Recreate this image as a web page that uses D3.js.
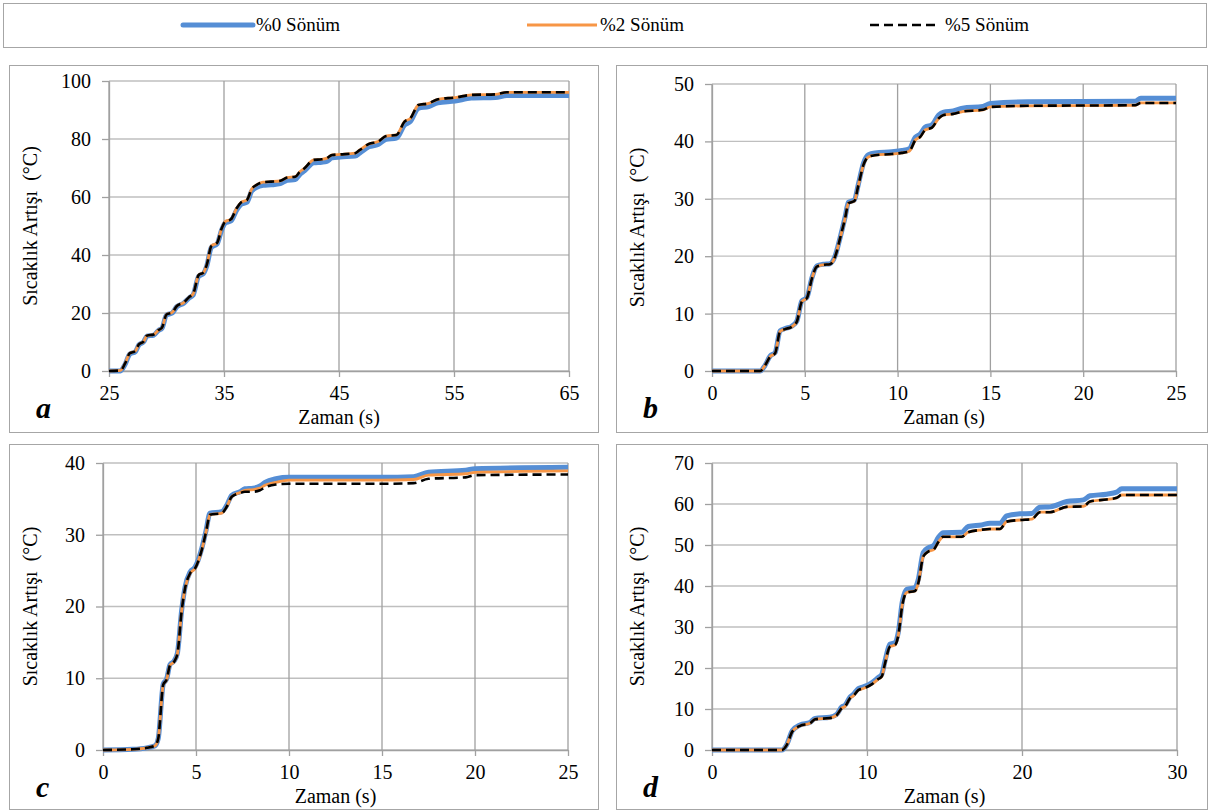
<!DOCTYPE html>
<html>
<head>
<meta charset="utf-8">
<script src="https://cdn.jsdelivr.net/npm/d3@7"></script>
<style>
  body { margin: 0; background: #fff; }
  svg { display: block; }
  svg text { fill: #000; white-space: pre; }
</style>
</head>
<body>
<div id="chart"></div>
<script>
const WIDTH = 1208;
const HEIGHT = 812;
const BLUE = "#558ed5";
const ORANGE = "#f79646";
const BLACK = "#000";
const BORDER = "#a6a6a6";
const FONT = "'Liberation Serif', 'Times New Roman', serif";

const seriesNames = ["%0 Sönüm", "%2 Sönüm", "%5 Sönüm"];
const yTitle = "Sıcaklık Artışı  (°C)";
const xTitle = "Zaman (s)";

// a
const aTime = [25, 26, 26.4, 26.8, 27.3, 27.6, 28, 28.3, 28.9, 29.3, 29.6, 30, 30.5, 30.9, 31.5, 32, 32.3, 32.8, 33.2, 33.5, 33.9, 34.4, 34.8, 35.1, 35.6, 36.1, 36.5, 37, 37.4, 37.8, 38.4, 39.1, 39.9, 40.5, 41.2, 41.6, 42, 42.8, 43.5, 43.9, 44.4, 45.1, 46.4, 46.8, 47.6, 48.4, 49.1, 50, 50.7, 51.2, 51.9, 52.8, 53.6, 55.1, 56.5, 58.6, 59.6, 65];
const aS0 = [0, 0, 2.3, 5.8, 6.7, 9.0, 10.0, 12.0, 12.4, 14.0, 14.7, 19.3, 20.0, 22.2, 23.4, 25.3, 26.1, 32.7, 33.5, 36.2, 42.6, 43.8, 48.7, 51.0, 51.7, 55.5, 57.5, 58.2, 62.0, 63.2, 64.0, 64.2, 64.6, 65.8, 66.0, 67.8, 69.0, 71.8, 72.0, 72.2, 73.5, 73.8, 74.1, 75.1, 77.3, 78.1, 79.9, 80.3, 84.8, 86.0, 90.6, 91.2, 92.5, 93.1, 94.1, 94.3, 95.0, 95.0];
const aS2 = [0, 0.2, 2.6, 6.1, 6.9, 9.2, 10.1, 12.2, 12.6, 14.1, 14.9, 19.5, 20.2, 22.4, 23.6, 25.6, 26.4, 33.1, 33.9, 36.6, 43.1, 44.2, 49.2, 51.5, 52.3, 56.1, 58.2, 59, 62.7, 64.1, 65.1, 65.3, 65.6, 66.7, 67, 68.7, 69.9, 72.8, 73, 73.3, 74.5, 74.7, 75.1, 76.2, 78.3, 79.1, 81, 81.4, 86, 87.1, 91.7, 92.3, 93.7, 94.3, 95.2, 95.4, 96.1, 96.1];
const aS5 = [0, 0.2, 2.6, 6.1, 6.9, 9.2, 10.1, 12.2, 12.6, 14.1, 14.9, 19.5, 20.2, 22.4, 23.6, 25.6, 26.4, 33.1, 33.9, 36.6, 43.1, 44.2, 49.2, 51.5, 52.3, 56.1, 58.2, 59, 62.7, 64.1, 65.1, 65.3, 65.6, 66.7, 67, 68.7, 69.9, 72.8, 73, 73.3, 74.5, 74.7, 75.1, 76.2, 78.3, 79.1, 81, 81.4, 86, 87.1, 91.7, 92.3, 93.7, 94.3, 95.2, 95.4, 96.1, 96.1];

// b
const bTime = [0, 2.6, 2.86, 3.13, 3.4, 3.67, 3.94, 4.3, 4.57, 4.84, 5.11, 5.38, 5.65, 6.0, 6.36, 6.63, 6.9, 7.17, 7.35, 7.67, 7.89, 8.16, 8.43, 8.79, 9.69, 10.23, 10.63, 10.95, 11.22, 11.49, 11.85, 12.21, 12.48, 13.0, 13.5, 14.6, 15.0, 17.0, 22.8, 23.1, 25];
const bS0 = [0, 0, 1.0, 2.6, 3.2, 7.0, 7.4, 7.8, 8.7, 12.2, 12.8, 16.2, 18.3, 18.6, 18.7, 20.0, 23.2, 26.8, 29.4, 29.8, 32.6, 36.2, 37.7, 38.0, 38.2, 38.4, 38.7, 40.7, 41.3, 42.5, 42.9, 44.6, 45.1, 45.3, 45.8, 46.1, 46.6, 46.9, 47.0, 47.5, 47.5];
const bS2 = [0, 0, 1.0, 2.5, 3.1, 6.9, 7.3, 7.7, 8.6, 12.1, 12.7, 16.1, 18.2, 18.5, 18.6, 19.9, 23.1, 26.6, 29.2, 29.6, 32.4, 35.9, 37.3, 37.6, 37.8, 38.0, 38.3, 40.2, 40.8, 42.0, 42.4, 44.0, 44.6, 44.8, 45.2, 45.5, 46.0, 46.2, 46.3, 46.7, 46.7];
const bS5 = [0, 0, 1.0, 2.5, 3.1, 6.9, 7.3, 7.7, 8.6, 12.1, 12.7, 16.1, 18.2, 18.5, 18.6, 19.9, 23.1, 26.6, 29.2, 29.6, 32.4, 35.9, 37.3, 37.6, 37.8, 38.0, 38.3, 40.2, 40.8, 42.0, 42.4, 44.0, 44.6, 44.8, 45.2, 45.5, 46.0, 46.2, 46.3, 46.7, 46.7];

// c
const cTime = [0, 1.6, 2.35, 2.8, 2.97, 3.24, 3.42, 3.6, 3.82, 4.0, 4.23, 4.41, 4.68, 4.95, 5.31, 5.54, 5.75, 6.38, 6.65, 6.92, 7.37, 7.63, 8.08, 8.44, 8.71, 9.3, 10, 15, 16.7, 17.5, 19.5, 20, 25];
const cS0 = [0, 0.1, 0.3, 0.6, 1.6, 9.2, 9.9, 11.9, 12.4, 13.5, 19.5, 22.7, 24.8, 25.5, 28.1, 30.6, 33.0, 33.2, 34.1, 35.5, 36.0, 36.4, 36.5, 36.8, 37.3, 37.8, 38.0, 38.0, 38.1, 38.7, 39.0, 39.2, 39.4];
const cS2 = [0, 0.1, 0.3, 0.6, 1.6, 9.1, 9.8, 11.8, 12.3, 13.4, 19.4, 22.5, 24.6, 25.3, 27.9, 30.4, 32.8, 33.0, 33.9, 35.3, 35.9, 36.2, 36.3, 36.5, 36.9, 37.3, 37.6, 37.6, 37.7, 38.3, 38.5, 38.7, 38.9];
const cS5 = [0, 0.1, 0.3, 0.6, 1.6, 9.1, 9.8, 11.8, 12.3, 13.4, 19.4, 22.5, 24.6, 25.3, 27.9, 30.4, 32.8, 33.0, 33.9, 35.3, 35.8, 36.0, 36.0, 36.2, 36.6, 37.0, 37.1, 37.1, 37.2, 37.8, 38.0, 38.3, 38.4];

// d
const dTime = [0, 4.5, 4.82, 5.18, 5.68, 6.32, 6.65, 7.61, 8.04, 8.37, 8.58, 8.9, 9.12, 9.44, 9.76, 10.3, 10.73, 10.95, 11.16, 11.48, 11.81, 12.02, 12.28, 12.56, 13.1, 13.31, 13.63, 13.95, 14.28, 14.6, 14.92, 16.1, 16.53, 17.39, 17.93, 18.58, 19.01, 19.87, 20.63, 21.16, 21.81, 22.88, 23.96, 24.39, 25.46, 26.11, 26.43, 30];
const dS0 = [0, 0, 1.3, 4.7, 6.1, 6.7, 7.7, 8.0, 8.7, 10.5, 10.9, 12.9, 13.6, 15.0, 15.4, 16.4, 17.7, 18.4, 21.7, 25.8, 26.2, 28.7, 36.2, 39.2, 39.6, 41.6, 48.2, 49.3, 49.8, 51.8, 53.0, 53.1, 54.5, 54.9, 55.3, 55.3, 57.1, 57.6, 57.7, 59.2, 59.3, 60.6, 61.0, 62.0, 62.4, 62.9, 63.7, 63.7];
const dS2 = [0, 0, 1.2, 4.5, 5.9, 6.5, 7.5, 7.8, 8.5, 10.2, 10.6, 12.6, 13.2, 14.6, 15.0, 16.0, 17.3, 17.9, 21.1, 25.2, 25.6, 28.0, 35.4, 38.4, 38.8, 40.7, 47.2, 48.4, 48.8, 50.7, 52.0, 52.0, 53.1, 53.7, 53.9, 53.9, 55.7, 56.1, 56.3, 58.0, 58.0, 59.3, 59.4, 60.6, 61.1, 61.5, 62.2, 62.2];
const dS5 = [0, 0, 1.2, 4.5, 5.9, 6.5, 7.5, 7.8, 8.5, 10.2, 10.6, 12.6, 13.2, 14.6, 15.0, 16.0, 17.3, 17.9, 21.1, 25.2, 25.6, 28.0, 35.4, 38.4, 38.8, 40.7, 47.2, 48.4, 48.8, 50.7, 52.0, 52.0, 53.1, 53.7, 53.9, 53.9, 55.7, 56.1, 56.3, 58.0, 58.0, 59.3, 59.4, 60.6, 61.1, 61.5, 62.2, 62.2];

const aXTicks = [25, 35, 45, 55, 65];
const aYTicks = [0, 20, 40, 60, 80, 100];
const bXTicks = [0, 5, 10, 15, 20, 25];
const bYTicks = [0, 10, 20, 30, 40, 50];
const cXTicks = [0, 5, 10, 15, 20, 25];
const cYTicks = [0, 10, 20, 30, 40];
const dXTicks = [0, 10, 20, 30];
const dYTicks = [0, 10, 20, 30, 40, 50, 60, 70];

const styles = [
  { color: BLUE, width: 5, dash: null },
  { color: ORANGE, width: 2.8, dash: null },
  { color: BLACK, width: 2.6, dash: "9,5" },
];

const panels = [
  { letter: "a", box: [9, 65, 589, 367], plot: [109, 81, 569, 371], time: aTime, series: [aS0, aS2, aS5], xTicks: aXTicks, yTicks: aYTicks },
  { letter: "b", box: [616, 65, 591, 367], plot: [712, 84, 1176, 371], time: bTime, series: [bS0, bS2, bS5], xTicks: bXTicks, yTicks: bYTicks },
  { letter: "c", box: [9, 444, 589, 365], plot: [103, 463, 568, 750], time: cTime, series: [cS0, cS2, cS5], xTicks: cXTicks, yTicks: cYTicks },
  { letter: "d", box: [616, 444, 591, 365], plot: [712, 463, 1177, 750], time: dTime, series: [dS0, dS2, dS5], xTicks: dXTicks, yTicks: dYTicks },
];

const svg = d3.select("#chart").append("svg")
  .attr("width", WIDTH)
  .attr("height", HEIGHT)
  .style("font-family", FONT);

// Legend
svg.append("rect")
  .attr("x", 3.5).attr("y", 3.5)
  .attr("width", 1203).attr("height", 44)
  .attr("fill", "#fff")
  .attr("stroke", BORDER);

const legendX = [183, 527, 870];
seriesNames.forEach((name, i) => {
  const g = svg.append("g").attr("transform", `translate(${legendX[i]},25)`);
  g.append("line")
    .attr("x1", 0).attr("x2", i === 2 ? 66 : 70)
    .attr("stroke", styles[i].color)
    .attr("stroke-width", styles[i].width)
    .attr("stroke-dasharray", styles[i].dash)
    .attr("stroke-linecap", i === 0 ? "round" : "butt");
  g.append("text")
    .attr("x", i === 2 ? 75 : 73)
    .attr("y", 6)
    .style("font-family", FONT)
    .attr("font-size", 19)
    .text(name);
});

panels.forEach(p => {
  const [bx, by, bw, bh] = p.box;
  const [x0, y0, x1, y1] = p.plot;

  svg.append("rect")
    .attr("x", bx + 0.5).attr("y", by + 0.5)
    .attr("width", bw).attr("height", bh)
    .attr("fill", "#fff")
    .attr("stroke", BORDER);

  const x = d3.scaleLinear()
    .domain(d3.extent(p.xTicks))
    .range([x0, x1]);
  const y = d3.scaleLinear()
    .domain(d3.extent(p.yTicks))
    .range([y1, y0]);

  const g = svg.append("g");

  // gridlines
  g.append("g").selectAll("line")
    .data(p.yTicks)
    .join("line")
    .attr("x1", x0).attr("x2", x1)
    .attr("y1", d => y(d)).attr("y2", d => y(d))
    .attr("stroke", "#bfbfbf")
    .attr("stroke-width", 1.3);
  g.append("g").selectAll("line")
    .data(p.xTicks)
    .join("line")
    .attr("x1", d => x(d)).attr("x2", d => x(d))
    .attr("y1", y0).attr("y2", y1)
    .attr("stroke", "#a0a0a0")
    .attr("stroke-width", 1.3);

  // axes
  const yAxis = g.append("g")
    .attr("transform", `translate(${x0},0)`)
    .call(d3.axisLeft(y).tickValues(p.yTicks).tickSize(7).tickPadding(11).tickSizeOuter(0));
  const xAxis = g.append("g")
    .attr("transform", `translate(0,${y1})`)
    .call(d3.axisBottom(x).tickValues(p.xTicks).tickSize(6).tickPadding(9).tickSizeOuter(0));
  [xAxis, yAxis].forEach(ax => {
    ax.attr("font-family", null).style("font-family", FONT);
    ax.select(".domain").attr("stroke", "#a0a0a0").attr("stroke-width", 1.3);
    ax.selectAll(".tick line").attr("stroke", "#a0a0a0").attr("stroke-width", 1.3);
    ax.selectAll(".tick text")
      .attr("font-size", 20)
      .attr("fill", "#000");
  });

  // series
  const line = d3.line()
    .x(d => x(d[0]))
    .y(d => y(d[1]))
    .curve(d3.curveMonotoneX);

  p.series.forEach((vals, i) => {
    const pts = p.time.map((t, j) => [t, vals[j]]);
    g.append("path")
      .datum(pts)
      .attr("d", line)
      .attr("fill", "none")
      .attr("stroke", styles[i].color)
      .attr("stroke-width", styles[i].width)
      .attr("stroke-dasharray", styles[i].dash)
      .attr("stroke-linejoin", "round");
  });

  // titles
  g.append("text")
    .attr("x", (x0 + x1) / 2)
    .attr("y", y1 + 53)
    .attr("text-anchor", "middle")
    .attr("font-size", 20)
    .text(xTitle);

  g.append("text")
    .attr("transform", `translate(${bx + 28},${(y0 + y1) / 2}) rotate(-90)`)
    .attr("text-anchor", "middle")
    .attr("font-size", 20)
    .text(yTitle);

  g.append("text")
    .attr("x", bx + 27)
    .attr("y", y1 + 47)
    .attr("font-size", 30)
    .attr("font-weight", "bold")
    .attr("font-style", "italic")
    .text(p.letter);
});
</script>
</body>
</html>
